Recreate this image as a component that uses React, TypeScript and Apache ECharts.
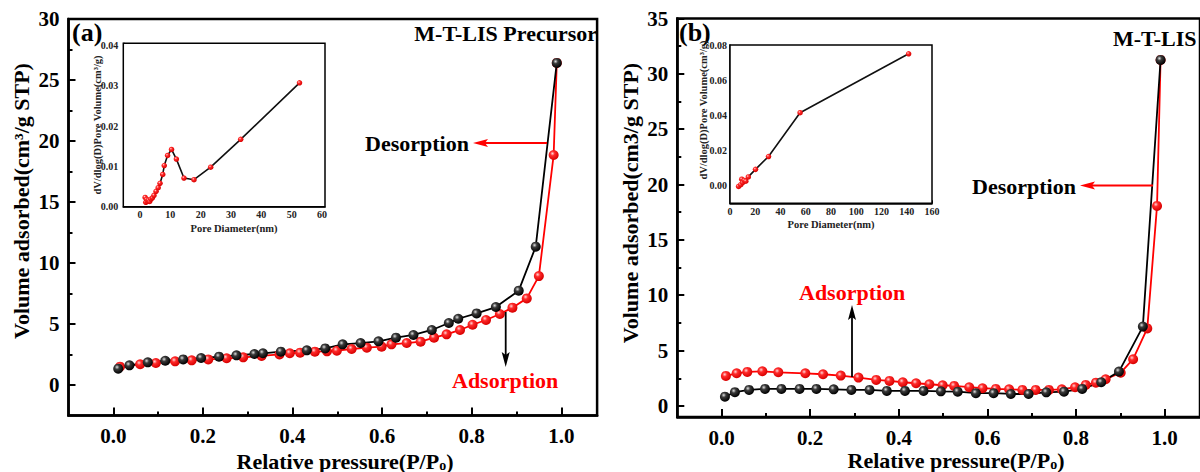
import React, { useEffect, useRef } from 'react';
import * as echarts from 'echarts';

// Panel (a) M-T-LIS Precursor isotherm
const A_ADS_P = [0.015, 0.06, 0.095, 0.138, 0.175, 0.212, 0.253, 0.29, 0.331, 0.371, 0.394, 0.417, 0.45, 0.477, 0.499, 0.532, 0.566, 0.599, 0.621, 0.655, 0.686, 0.716, 0.744, 0.774, 0.802, 0.832, 0.863, 0.891, 0.923, 0.95, 0.983, 0.99];
const A_ADS_V = [1.5, 1.7, 1.8, 1.94, 2.02, 2.1, 2.19, 2.27, 2.38, 2.51, 2.6, 2.65, 2.73, 2.76, 2.81, 2.95, 3.06, 3.14, 3.33, 3.44, 3.55, 3.88, 4.15, 4.51, 4.94, 5.33, 5.82, 6.34, 7.1, 8.93, 18.85, 26.4];
const A_DES_P = [0.99, 0.943, 0.905, 0.854, 0.811, 0.77, 0.749, 0.711, 0.67, 0.631, 0.592, 0.552, 0.512, 0.473, 0.432, 0.374, 0.334, 0.315, 0.275, 0.236, 0.196, 0.156, 0.116, 0.077, 0.036, 0.011];
const A_DES_V = [26.4, 11.34, 7.73, 6.39, 5.87, 5.43, 5.08, 4.51, 4.1, 3.88, 3.58, 3.44, 3.33, 3.0, 2.84, 2.73, 2.6, 2.54, 2.43, 2.32, 2.21, 2.1, 1.99, 1.86, 1.61, 1.34];

// Panel (b) M-T-LIS isotherm
const B_ADS_P = [0.0097, 0.034, 0.058, 0.092, 0.128, 0.189, 0.229, 0.269, 0.309, 0.349, 0.379, 0.409, 0.439, 0.469, 0.499, 0.525, 0.559, 0.589, 0.619, 0.649, 0.679, 0.709, 0.739, 0.768, 0.798, 0.822, 0.845, 0.867, 0.901, 0.929, 0.961, 0.983, 0.991];
const B_ADS_V = [2.71, 2.95, 3.07, 3.13, 3.04, 2.95, 2.86, 2.74, 2.56, 2.35, 2.26, 2.14, 2.05, 1.96, 1.87, 1.81, 1.69, 1.6, 1.54, 1.5, 1.45, 1.45, 1.45, 1.5, 1.69, 1.9, 2.1, 2.41, 3.0, 4.22, 7.0, 18.07, 31.26];
const B_DES_P = [0.991, 0.951, 0.897, 0.857, 0.814, 0.773, 0.733, 0.693, 0.653, 0.614, 0.574, 0.533, 0.495, 0.456, 0.414, 0.373, 0.334, 0.293, 0.253, 0.214, 0.176, 0.135, 0.098, 0.062, 0.03, 0.0075];
const B_DES_V = [31.26, 7.17, 3.1, 2.14, 1.54, 1.29, 1.23, 1.08, 1.08, 1.15, 1.15, 1.29, 1.32, 1.36, 1.36, 1.36, 1.45, 1.45, 1.5, 1.54, 1.54, 1.54, 1.54, 1.45, 1.24, 0.84];

// Inset pore size distributions
const IA_D = [1.7, 1.9, 2.2, 2.5, 2.8, 3.2, 3.6, 4.1, 4.6, 5.3, 6.0, 6.6, 7.5, 8.0, 9.1, 10.4, 12.0, 14.5, 17.8, 23.3, 33.2, 52.6];
const IA_V = [0.0023, 0.0011, 0.0018, 0.0013, 0.0016, 0.0013, 0.0019, 0.0022, 0.0028, 0.0038, 0.0047, 0.0058, 0.008, 0.0102, 0.0127, 0.0142, 0.0118, 0.0071, 0.0067, 0.0098, 0.0167, 0.0307];
const IB_D = [6.8, 8.5, 9.3, 10.0, 11.2, 12.5, 14.5, 20.2, 30.5, 55.5, 141.5];
const IB_V = [-0.0004, 0.0006, 0.0037, 0.0018, 0.003, 0.0026, 0.005, 0.0093, 0.0166, 0.0415, 0.075];

// Tick values
const MAIN_X_LABELS = [0, 0.2, 0.4, 0.6, 0.8, 1.0];
const MAIN_X_MINOR = [0.1, 0.3, 0.5, 0.7, 0.9];
const A_Y_LABELS = [0, 5, 10, 15, 20, 25, 30];
const A_Y_MINOR = [2.5, 7.5, 12.5, 17.5, 22.5, 27.5];
const B_Y_LABELS = [0, 5, 10, 15, 20, 25, 30, 35];
const B_Y_MINOR = [2.5, 7.5, 12.5, 17.5, 22.5, 27.5, 32.5];
const IA_X_LABELS = [0, 10, 20, 30, 40, 50, 60];
const IA_Y_LABELS = [0, 0.01, 0.02, 0.03, 0.04];
const IB_X_LABELS = [0, 20, 40, 60, 80, 100, 120, 140, 160];
const IB_Y_LABELS = [0, 0.02, 0.04, 0.06, 0.08];

const SERIF = '"Liberation Serif", "Times New Roman", serif';

const pairs = (xs: number[], ys: number[]) => xs.map((x, i) => [x, ys[i]]);

const redBall = {
  type: 'radial', x: 0.38, y: 0.35, r: 0.65,
  colorStops: [
    { offset: 0, color: '#ffd6d6' },
    { offset: 0.35, color: '#ff2a2a' },
    { offset: 1, color: '#d80000' },
  ],
};
const blackBall = {
  type: 'radial', x: 0.38, y: 0.35, r: 0.65,
  colorStops: [
    { offset: 0, color: '#e0e0e0' },
    { offset: 0.35, color: '#3a3a3a' },
    { offset: 1, color: '#000000' },
  ],
};

function mainX(gridIndex: number) {
  return [
    {
      gridIndex, type: 'value', min: -0.1, max: 1.08, position: 'bottom',
      axisLine: { show: true, onZero: false, lineStyle: { color: '#000', width: 2.5 } },
      axisTick: { show: true, inside: true, length: 8, lineStyle: { color: '#000', width: 2 }, customValues: MAIN_X_LABELS },
      axisLabel: {
        show: true, customValues: MAIN_X_LABELS, formatter: (v: number) => v.toFixed(1),
        fontSize: 21, fontWeight: 'bold', fontFamily: SERIF, color: '#000', margin: 10,
      },
      splitLine: { show: false },
    },
    {
      gridIndex, type: 'value', min: -0.1, max: 1.08, position: 'bottom',
      axisLine: { show: false, onZero: false },
      axisTick: { show: true, inside: true, length: 4, lineStyle: { color: '#000', width: 2 }, customValues: MAIN_X_MINOR },
      axisLabel: { show: false },
      splitLine: { show: false },
    },
  ];
}

function mainY(gridIndex: number, min: number, max: number, labels: number[], minor: number[]) {
  return [
    {
      gridIndex, type: 'value', min, max, position: 'left',
      axisLine: { show: true, onZero: false, lineStyle: { color: '#000', width: 2.5 } },
      axisTick: { show: true, inside: true, length: 7, lineStyle: { color: '#000', width: 2 }, customValues: labels },
      axisLabel: {
        show: true, customValues: labels, formatter: (v: number) => String(v),
        fontSize: 21, fontWeight: 'bold', fontFamily: SERIF, color: '#000', margin: 9,
      },
      splitLine: { show: false },
    },
    {
      gridIndex, type: 'value', min, max, position: 'left',
      axisLine: { show: false, onZero: false },
      axisTick: { show: true, inside: true, length: 4, lineStyle: { color: '#000', width: 2 }, customValues: minor },
      axisLabel: { show: false },
      splitLine: { show: false },
    },
  ];
}

function insetX(gridIndex: number, min: number, max: number, labels: number[], margin: number) {
  return {
    gridIndex, type: 'value', min, max, position: 'bottom',
    axisLine: { show: true, onZero: false, lineStyle: { color: '#000', width: 1.5 } },
    axisTick: { show: true, inside: true, length: 3, lineStyle: { color: '#000', width: 1 }, customValues: labels },
    axisLabel: {
      show: true, customValues: labels, formatter: (v: number) => String(v),
      fontSize: 10, fontWeight: 'bold', fontFamily: SERIF, color: '#222', margin,
    },
    splitLine: { show: false },
  };
}

function insetY(gridIndex: number, min: number, max: number, labels: number[], margin: number) {
  return {
    gridIndex, type: 'value', min, max, position: 'left',
    axisLine: { show: true, onZero: false, lineStyle: { color: '#000', width: 1.5 } },
    axisTick: { show: true, inside: true, length: 3, lineStyle: { color: '#000', width: 1 }, customValues: labels },
    axisLabel: {
      show: true, customValues: labels, formatter: (v: number) => v.toFixed(2),
      fontSize: 10, fontWeight: 'bold', fontFamily: SERIF, color: '#222', margin,
    },
    splitLine: { show: false },
  };
}

function txt(x: number, y: number, text: string, size: number, fill = '#000', align = 'left', rotation = 0) {
  return {
    type: 'text', x, y, rotation, z: 100,
    style: { text, fontSize: size, fontWeight: 'bold', fontFamily: SERIF, fill, align, verticalAlign: 'middle' },
  };
}

function richTitle(x: number, y: number) {
  return {
    type: 'text', x, y, z: 100,
    style: {
      text: '{n|Relative pressure(P/P}{s|o}{n|)}',
      align: 'center', verticalAlign: 'middle',
      rich: {
        n: { fontSize: 22, lineHeight: 22, fontWeight: 'bold', fontFamily: SERIF, fill: '#000' },
        s: { fontSize: 14, lineHeight: 14, fontWeight: 'bold', fontFamily: SERIF, fill: '#000', padding: [8, 0, 0, 0] },
      },
    },
  };
}

function hArrow(x1: number, x2: number, y: number, color: string) {
  const dir = x2 < x1 ? 1 : -1;
  return [
    { type: 'line', z: 100, shape: { x1, y1: y, x2: x2 + dir * 10, y2: y }, style: { stroke: color, lineWidth: 1.8 } },
    { type: 'polygon', z: 100, shape: { points: [[x2, y], [x2 + dir * 15, y - 4], [x2 + dir * 12, y], [x2 + dir * 15, y + 4]] }, style: { fill: color } },
  ];
}

function vArrow(x: number, y1: number, y2: number, color: string) {
  const dir = y2 < y1 ? 1 : -1;
  return [
    { type: 'line', z: 100, shape: { x1: x, y1, x2: x, y2: y2 + dir * 10 }, style: { stroke: color, lineWidth: 1.8 } },
    { type: 'polygon', z: 100, shape: { points: [[x, y2], [x - 4, y2 + dir * 15], [x, y2 + dir * 12], [x + 4, y2 + dir * 15]] }, style: { fill: color } },
  ];
}

export default function App() {
  const ref = useRef<HTMLDivElement>(null);

  useEffect(() => {
    document.body.style.margin = '0';
    const chart = echarts.init(ref.current!, null, { renderer: 'svg' });

    const mainSeries = (xi: number, yi: number, p: number[], v: number[], color: string, ball: any, name: string) => ({
      type: 'line', name, xAxisIndex: xi, yAxisIndex: yi, data: pairs(p, v),
      symbol: 'circle', symbolSize: 10, showSymbol: true,
      lineStyle: { color, width: 1.8 }, itemStyle: { color: ball },
      emphasis: { disabled: true }, silent: true,
    });

    const insetSeries = (xi: number, yi: number, d: number[], v: number[]) => ({
      type: 'line', xAxisIndex: xi, yAxisIndex: yi, data: pairs(d, v),
      symbol: 'circle', symbolSize: 5.5, showSymbol: true,
      lineStyle: { color: '#111', width: 1.6 }, itemStyle: { color: redBall },
      emphasis: { disabled: true }, silent: true, z: 10,
    });

    const option: any = {
      animation: false,
      backgroundColor: '#fff',
      grid: [
        { left: 68.5, top: 19, width: 528.6, height: 396.5, show: true, borderColor: '#000', borderWidth: 2.5, backgroundColor: 'transparent' },
        { left: 677.3, top: 18.5, width: 523.9, height: 398.5, show: true, borderColor: '#000', borderWidth: 2.5, backgroundColor: 'transparent' },
        { left: 123.3, top: 43.3, width: 201.7, height: 163.4, show: true, borderColor: '#000', borderWidth: 1.5, backgroundColor: '#fff', z: 5 },
        { left: 730, top: 45, width: 202, height: 158.3, show: true, borderColor: '#000', borderWidth: 1.5, backgroundColor: '#fff', z: 5 },
      ],
      xAxis: [
        ...mainX(0),
        ...mainX(1),
        insetX(2, -5.5, 61, IA_X_LABELS, 3),
        insetX(3, 0, 160, IB_X_LABELS, 3),
      ],
      yAxis: [
        ...mainY(0, -2.5, 30, A_Y_LABELS, A_Y_MINOR),
        ...mainY(1, -1, 35, B_Y_LABELS, B_Y_MINOR),
        insetY(2, 0, 0.0405, IA_Y_LABELS, 5),
        insetY(3, -0.01, 0.08, IB_Y_LABELS, 3),
      ],
      series: [
        mainSeries(0, 0, A_ADS_P, A_ADS_V, '#ff0000', redBall, 'Adsorption (a)'),
        mainSeries(0, 0, A_DES_P, A_DES_V, '#000000', blackBall, 'Desorption (a)'),
        mainSeries(2, 2, B_ADS_P, B_ADS_V, '#ff0000', redBall, 'Adsorption (b)'),
        mainSeries(2, 2, B_DES_P, B_DES_V, '#000000', blackBall, 'Desorption (b)'),
        insetSeries(4, 4, IA_D, IA_V),
        insetSeries(5, 5, IB_D, IB_V),
      ],
      graphic: [
        txt(72, 32, '(a)', 26),
        txt(679, 32, '(b)', 26),
        txt(597, 33, 'M-T-LIS Precursor', 22, '#000', 'right'),
        txt(1113, 38, 'M-T-LIS', 22),
        txt(365, 143, 'Desorption', 22),
        ...hArrow(547, 473, 143, '#ff0000'),
        txt(972, 186, 'Desorption', 22),
        ...hArrow(1153, 1080, 185.5, '#ff0000'),
        txt(452, 380, 'Adsorption', 22, '#ff0000'),
        ...vArrow(505.7, 312, 367, '#000'),
        txt(799, 292, 'Adsorption', 22, '#ff0000'),
        ...vArrow(852, 377, 305, '#000'),
        richTitle(345, 461),
        richTitle(956, 460),
        txt(21, 201, 'Volume adsorbed(cm³/g STP)', 22, '#000', 'center', Math.PI / 2),
        txt(630, 203, 'Volume adsorbed(cm3/g STP)', 22, '#000', 'center', Math.PI / 2),
        txt(234, 228, 'Pore Diameter(nm)', 10.5, '#222', 'center'),
        txt(97, 125, 'dV/dlog(D)Pore Volume(cm³/g)', 10.5, '#222', 'center', Math.PI / 2),
        txt(831, 224, 'Pore Diameter(nm)', 10.5, '#222', 'center'),
        txt(703, 110, 'dV/dlog(D)Pore Volume(cm³/g)', 10.5, '#222', 'center', Math.PI / 2),
      ],
    };

    chart.setOption(option);
    return () => chart.dispose();
  }, []);

  return <div ref={ref} style={{ width: 1200, height: 472 }} />;
}
